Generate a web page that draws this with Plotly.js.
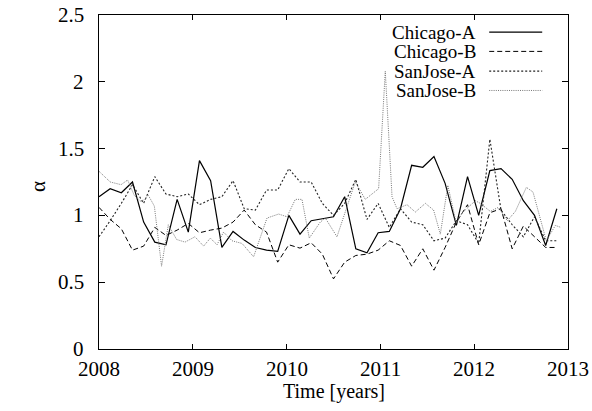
<!DOCTYPE html>
<html>
<head>
<meta charset="utf-8">
<script src="https://cdn.plot.ly/plotly-3.0.1.min.js"></script>
<style>html,body{margin:0;padding:0;background:#fff;}#chart{width:592px;height:411px;}</style>
</head>
<body>
<div id="chart"></div>
<script>
// Common sampling dates (years) for Chicago-A, Chicago-B, SanJose-A
const times = [2008.000, 2008.119, 2008.238, 2008.357, 2008.476, 2008.595, 2008.714, 2008.833, 2008.952, 2009.071,
  2009.190, 2009.310, 2009.429, 2009.548, 2009.667, 2009.786, 2009.905, 2010.024, 2010.143, 2010.262,
  2010.381, 2010.500, 2010.619, 2010.738, 2010.857, 2010.976, 2011.095, 2011.214, 2011.333, 2011.452,
  2011.571, 2011.690, 2011.810, 2011.929, 2012.048, 2012.167, 2012.286, 2012.405, 2012.524, 2012.643,
  2012.762, 2012.881];

const chicagoA = [1.14, 1.20, 1.17, 1.25, 0.95, 0.80, 0.78, 1.12, 0.875, 1.41,
  1.26, 0.76, 0.88, 0.815, 0.76, 0.74, 0.73, 1.00, 0.86, 0.96,
  0.975, 0.99, 1.14, 0.75, 0.72, 0.87, 0.88, 1.05, 1.375, 1.36,
  1.44, 1.24, 0.925, 1.29, 1.00, 1.335, 1.35, 1.27, 1.11, 1.00,
  0.775, 1.05];

const chicagoB = [1.06, 0.97, 0.90, 0.74, 0.77, 0.91, 0.85, 0.89, 0.94, 0.87,
  0.89, 0.905, 0.95, 1.04, 0.93, 0.875, 0.65, 0.78, 0.755, 0.795,
  0.71, 0.525, 0.65, 0.70, 0.71, 0.74, 0.81, 0.775, 0.62, 0.75,
  0.59, 0.76, 0.95, 1.08, 0.78, 1.02, 1.05, 0.75, 0.92, 0.84,
  0.76, 0.76];

const sanJoseA = [0.84, 0.96, 1.09, 1.23, 1.09, 1.29, 1.16, 1.14, 1.16, 1.08,
  1.12, 1.14, 1.26, 1.05, 1.04, 1.19, 1.19, 1.35, 1.25, 1.25,
  1.09, 1.00, 1.09, 1.27, 0.97, 1.09, 0.91, 1.05, 0.95, 0.93,
  0.81, 0.83, 0.96, 0.93, 0.79, 1.57, 1.04, 0.93, 0.84, 0.99,
  0.81, 0.81];

// SanJose-B has its own sampling dates
const timesSJB = [2008.000, 2008.120, 2008.235, 2008.305, 2008.376, 2008.454, 2008.526, 2008.590, 2008.667, 2008.739,
  2008.827, 2008.917, 2009.023, 2009.115, 2009.187, 2009.258, 2009.328, 2009.418, 2009.525, 2009.648,
  2009.791, 2009.915, 2010.004, 2010.093, 2010.164, 2010.242, 2010.359, 2010.413, 2010.537, 2010.626,
  2010.732, 2010.839, 2010.981, 2011.052, 2011.124, 2011.177, 2011.284, 2011.372, 2011.479, 2011.567,
  2011.639, 2011.719, 2011.809, 2011.873, 2012.012, 2012.065, 2012.172, 2012.257, 2012.353, 2012.439,
  2012.556, 2012.627, 2012.769, 2012.865, 2012.925];
const sanJoseB = [1.33, 1.25, 1.23, 1.265, 1.15, 1.10, 1.15, 1.07, 0.62, 0.93,
  0.82, 0.80, 0.84, 0.77, 0.83, 0.78, 0.875, 0.81, 0.79, 0.69,
  0.98, 1.01, 0.99, 1.12, 1.12, 0.83, 0.95, 0.98, 0.84, 1.02,
  1.25, 1.12, 1.20, 2.08, 1.14, 1.05, 1.08, 1.025, 1.09, 1.04,
  0.86, 1.225, 0.94, 1.02, 1.11, 1.09, 1.03, 1.06, 0.96, 1.03,
  1.21, 1.175, 0.81, 0.925, 0.91];

const seriesNames = ['Chicago-A', 'Chicago-B', 'SanJose-A', 'SanJose-B'];
const yTicks = [0, 0.5, 1, 1.5, 2, 2.5];
const yTickText = ['0', '0.5', '1', '1.5', '2', '2.5'];
const xTicks = [2008, 2009, 2010, 2011, 2012, 2013];
const xTickText = ['2008', '2009', '2010', '2011', '2012', '2013'];

const FONT = 'Liberation Serif';
const styles = [
  {color: '#000000', width: 1.2, dash: 'solid'},
  {color: '#000000', width: 1.0, dash: '5px,3px'},
  {color: '#222222', width: 1.1, dash: '2px,2px'},
  {color: '#777777', width: 1.0, dash: '1px,1.2px'}
];

const traces = [
  {x: times, y: chicagoA},
  {x: times, y: chicagoB},
  {x: times, y: sanJoseA},
  {x: timesSJB, y: sanJoseB}
].map((t, i) => ({
  x: t.x, y: t.y, type: 'scatter', mode: 'lines', name: seriesNames[i],
  line: {color: styles[i].color, width: styles[i].width, dash: styles[i].dash},
  hoverinfo: 'skip', showlegend: false
}));

const txtFont = (s) => ({family: FONT, size: s, color: '#000'});

// Custom gnuplot-style key: label text on the left, sample line on the right
const keyRowsY = [0.949, 0.891, 0.832, 0.774];
const annotations = seriesNames.map((n, i) => ({
  xref: 'paper', yref: 'paper', x: 0.806, y: keyRowsY[i], xanchor: 'right', yanchor: 'middle',
  text: n, showarrow: false, font: txtFont(19), borderpad: 0
}));
const shapes = seriesNames.map((n, i) => ({
  type: 'line', xref: 'paper', yref: 'paper', x0: 0.832, x1: 0.945, y0: keyRowsY[i], y1: keyRowsY[i],
  line: {color: styles[i].color, width: styles[i].width, dash: styles[i].dash}
}));
// Tick labels drawn as serif text at the axis tick positions
xTicks.forEach((v, i) => annotations.push({
  xref: 'x', yref: 'paper', x: v, y: 0, xanchor: 'center', yanchor: 'top', yshift: -6,
  text: xTickText[i], showarrow: false, font: txtFont(21)
}));
yTicks.forEach((v, i) => annotations.push({
  xref: 'paper', yref: 'y', x: 0, y: v, xanchor: 'right', yanchor: 'middle', xshift: -13,
  text: yTickText[i], showarrow: false, font: txtFont(21)
}));
annotations.push({
  xref: 'paper', yref: 'paper', x: -0.13, y: 0.485, xanchor: 'center', yanchor: 'middle',
  text: 'α', textangle: -90, showarrow: false, font: txtFont(21)
});
annotations.push({
  xref: 'paper', yref: 'paper', x: 0.5, y: -0.128, xanchor: 'center', yanchor: 'middle',
  text: 'Time [years]', showarrow: false, font: txtFont(20)
});

const layout = {
  width: 592, height: 411,
  margin: {l: 99, r: 24, t: 15, b: 62},
  paper_bgcolor: '#fff', plot_bgcolor: '#fff',
  showlegend: false,
  font: {family: FONT, size: 20, color: '#000'},
  xaxis: {
    range: [2008, 2013], tickvals: xTicks, showticklabels: false,
    ticks: 'inside', ticklen: 5, tickwidth: 1, tickcolor: '#000',
    showline: true, linecolor: '#000', linewidth: 1.2, mirror: 'ticks',
    showgrid: false, zeroline: false
  },
  yaxis: {
    range: [0, 2.5], tickvals: yTicks, showticklabels: false,
    ticks: 'inside', ticklen: 6, tickwidth: 1, tickcolor: '#000',
    showline: true, linecolor: '#000', linewidth: 1.2, mirror: 'ticks',
    showgrid: false, zeroline: false
  },
  annotations: annotations,
  shapes: shapes
};

Plotly.newPlot('chart', traces, layout, {staticPlot: true, displayModeBar: false});
</script>
</body>
</html>
